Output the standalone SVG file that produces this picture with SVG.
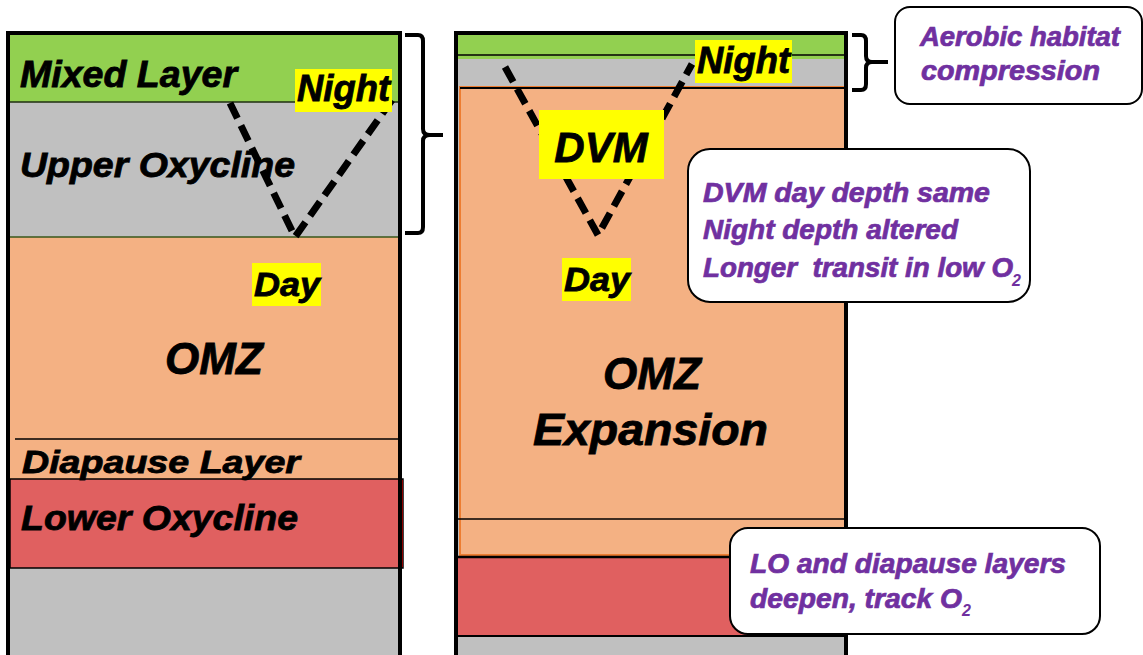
<svg xmlns="http://www.w3.org/2000/svg" width="1143" height="655" viewBox="0 0 1143 655">
<style>
.lbl{font-family:"Liberation Sans",Arial,sans-serif;font-weight:bold;font-style:italic;fill:#000;stroke:#000;stroke-width:0.8}
.note{font-family:"Liberation Sans",Arial,sans-serif;font-weight:bold;font-style:italic;fill:#7030A0;stroke:#7030A0;stroke-width:0.7;font-size:27px}
.sub{font-family:"Liberation Sans Narrow","Liberation Sans",Arial,sans-serif;font-weight:bold;font-style:italic;fill:#7030A0;font-size:16px}
.yel{fill:#FFFF00}
.dash{fill:none;stroke:#000;stroke-width:7;stroke-dasharray:17 8}
.brace{fill:none;stroke:#000;stroke-width:4;stroke-linejoin:round}
.callout{fill:#fff;stroke:#000;stroke-width:2}
.sep{stroke:#000;stroke-width:1.5}
</style>
<rect width="1143" height="655" fill="#fff"/>

<g id="left-column">
  <rect x="8" y="33" width="392" height="640" fill="#C0C0C0"/>
  <rect x="10" y="35" width="390" height="67" fill="#92D050"/>
  <rect x="10" y="237" width="390" height="242" fill="#F4B183"/>
  <rect x="10" y="479" width="393" height="89" fill="#E06060" stroke="#000" stroke-width="1.5"/>
  <rect x="399" y="480" width="4" height="87" fill="#8B0000"/>
  <line x1="10" y1="102" x2="400" y2="102" stroke="#1F2F10" stroke-width="1.5"/>
  <line x1="10" y1="237" x2="400" y2="237" stroke="#38571A" stroke-width="1.5"/>
  <line class="sep" x1="15" y1="439" x2="402" y2="439"/>
  <rect x="8" y="33" width="392" height="640" fill="none" stroke="#000" stroke-width="4"/>
</g>

<g id="right-column">
  <rect x="456" y="33" width="390" height="640" fill="#C0C0C0"/>
  <rect x="458" y="35" width="388" height="24" fill="#92D050"/>
  <rect x="458" y="59" width="388" height="27" fill="#C0C0C0"/>
  <rect x="460" y="87" width="386" height="468" fill="#F4B183" stroke="#ED7D31" stroke-width="2"/>
  <line class="sep" x1="458" y1="55" x2="846" y2="55"/>
  <line x1="460" y1="88" x2="846" y2="88" stroke="#000" stroke-width="2"/>
  <line class="sep" x1="458" y1="519" x2="846" y2="519"/>
  <rect x="458" y="557" width="388" height="79" fill="#E06060"/>
  <line x1="458" y1="557" x2="846" y2="557" stroke="#000" stroke-width="2.5"/>
  <line x1="458" y1="636" x2="846" y2="636" stroke="#000" stroke-width="2"/>
  <rect x="456" y="33" width="390" height="640" fill="none" stroke="#000" stroke-width="4"/>
</g>

<g id="connectors">
  <polyline class="dash" points="230,103 295,237 392,100"/>
  <polyline class="dash" points="505,67 598,235 692,64"/>
  <path class="brace" d="M405,35 H418 Q423,35 423,41 V129 Q423,135 430,135 H443 M430,135 Q423,135 423,141 V227 Q423,233 418,233 H405"/>
  <path class="brace" d="M852,35 H861 Q866,35 866,41 V56 Q866,62 872,62 H888 M872,62 Q866,62 866,68 V84 Q866,90 861,90 H852"/>
</g>

<g id="labels-left">
  <text class="lbl" x="20" y="87" font-size="36" textLength="217" lengthAdjust="spacingAndGlyphs">Mixed Layer</text>
  <text class="lbl" x="20" y="177" font-size="35" textLength="275" lengthAdjust="spacingAndGlyphs">Upper Oxycline</text>
  <text class="lbl" x="214" y="374" font-size="44" text-anchor="middle">OMZ</text>
  <text class="lbl" x="22" y="473" font-size="31" textLength="278" lengthAdjust="spacingAndGlyphs">Diapause Layer</text>
  <text class="lbl" x="21" y="530" font-size="35" textLength="277" lengthAdjust="spacingAndGlyphs">Lower Oxycline</text>
</g>

<g id="night-left">
  <rect class="yel" x="295" y="69" width="97" height="43"/>
  <text class="lbl" x="297" y="101" font-size="36" textLength="93" lengthAdjust="spacingAndGlyphs">Night</text>
</g>
<g id="day-left">
  <rect class="yel" x="252" y="263" width="69" height="43"/>
  <text class="lbl" x="254" y="296" font-size="34" textLength="66" lengthAdjust="spacingAndGlyphs">Day</text>
</g>

<g id="night-right">
  <rect class="yel" x="695" y="40" width="97" height="43"/>
  <text class="lbl" x="697" y="73" font-size="36" textLength="93" lengthAdjust="spacingAndGlyphs">Night</text>
</g>
<g id="dvm">
  <rect class="yel" x="539" y="110" width="125" height="69"/>
  <text class="lbl" x="601" y="162" font-size="42" text-anchor="middle">DVM</text>
</g>
<g id="day-right">
  <rect class="yel" x="562" y="258" width="69" height="43"/>
  <text class="lbl" x="564" y="291" font-size="34" textLength="66" lengthAdjust="spacingAndGlyphs">Day</text>
</g>
<g id="omz-expansion">
  <text class="lbl" x="652" y="389" font-size="44" text-anchor="middle">OMZ</text>
  <text class="lbl" x="533" y="445" font-size="44" textLength="235" lengthAdjust="spacingAndGlyphs">Expansion</text>
</g>

<g id="callout-aerobic">
  <rect class="callout" x="895" y="7" width="247" height="97" rx="15"/>
  <text class="note" x="920" y="46" font-size="29" textLength="200" lengthAdjust="spacingAndGlyphs">Aerobic habitat</text>
  <text class="note" x="921" y="80" font-size="29" textLength="179" lengthAdjust="spacingAndGlyphs">compression</text>
</g>

<g id="callout-dvm">
  <rect class="callout" x="688" y="149" width="342" height="153" rx="22"/>
  <text class="note" x="703" y="202" textLength="287" lengthAdjust="spacingAndGlyphs">DVM day depth same</text>
  <text class="note" x="703" y="239" textLength="255" lengthAdjust="spacingAndGlyphs">Night depth altered</text>
  <text class="note" x="703" y="277" textLength="310" lengthAdjust="spacingAndGlyphs" xml:space="preserve" style="white-space:pre">Longer  transit in low O</text>
  <text class="sub" x="1012" y="286">2</text>
</g>

<g id="callout-lo">
  <rect class="callout" x="730" y="528" width="370" height="106" rx="18"/>
  <text class="note" x="750" y="573" textLength="316" lengthAdjust="spacingAndGlyphs">LO and diapause layers</text>
  <text class="note" x="750" y="608" textLength="212" lengthAdjust="spacingAndGlyphs">deepen, track O</text>
  <text class="sub" x="962" y="616">2</text>
</g>
</svg>
